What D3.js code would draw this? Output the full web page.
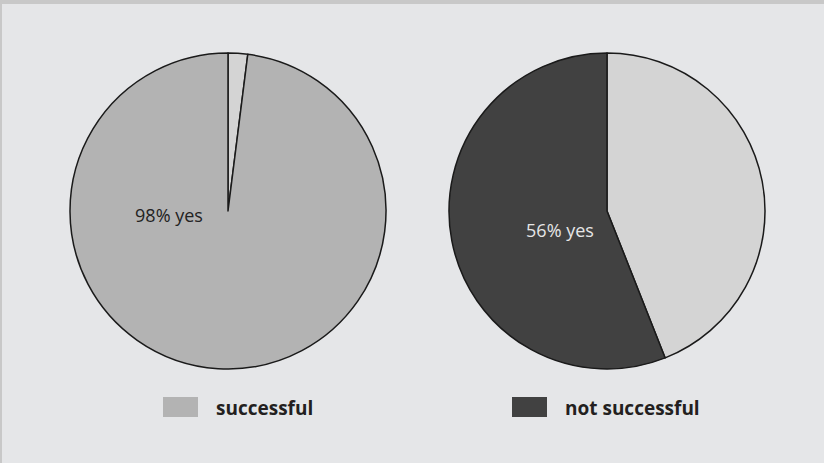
<!DOCTYPE html>
<html lang="en">
<head>
    <meta charset="UTF-8">
    <script src="https://d3js.org/d3.v7.min.js"></script>
    <title>Success pies</title>
    <style>
        body { margin: 0; background: #e5e6e8; }
        svg { display: block; font-family: "Open Sans", sans-serif; }
    </style>
</head>
<body>
    <div class="chart"></div>

    <script>
        // data
        const pieNames = ["left", "right"];
        const leftValues = [2, 98];
        const leftColors = ["#d4d4d4", "#b3b3b3"];
        const rightValues = [44, 56];
        const rightColors = ["#d4d4d4", "#414141"];
        const pieLabels = ["98% yes", "56% yes"];
        const legendLabels = ["successful", "not successful"];
        const legendColors = ["#b3b3b3", "#414141"];

        const width = 824, height = 463;
        const radius = 158;

        const svg = d3.select(".chart")
          .append("svg")
          .attr("width", width)
          .attr("height", height);

        // frame: darker strip on top and left
        svg.append("rect").attr("x", 0).attr("y", 0).attr("width", width).attr("height", 4).attr("fill", "#c8c8c8");
        svg.append("rect").attr("x", 0).attr("y", 0).attr("width", 2).attr("height", height).attr("fill", "#c8c8c8");

        const pie = d3.pie().sort(null).value(d => d);
        const arc = d3.arc().innerRadius(0).outerRadius(radius);

        const centers = d3.scalePoint().domain(pieNames).range([228, 607]);
        const cy = 211;

        const pies = [
          { name: "left", values: leftValues, colors: leftColors, label: pieLabels[0], dx: -59, dy: 6, textColor: "#222222" },
          { name: "right", values: rightValues, colors: rightColors, label: pieLabels[1], dx: -47, dy: 21, textColor: "#e6e6e6" }
        ];

        pies.forEach(p => {
          const g = svg.append("g")
            .attr("transform", "translate(" + centers(p.name) + "," + cy + ")");

          g.selectAll("path")
            .data(pie(p.values))
            .enter()
            .append("path")
            .attr("d", arc)
            .attr("fill", (d, i) => p.colors[i])
            .attr("stroke", "#1a1a1a")
            .attr("stroke-width", 1.5)
            .attr("stroke-linejoin", "round");

          g.append("text")
            .attr("x", p.dx)
            .attr("y", p.dy)
            .attr("text-anchor", "middle")
            .attr("dominant-baseline", "middle")
            .attr("font-size", 18)
            .attr("fill", p.textColor)
            .text(p.label);
        });

        // legend
        const legendX = d3.scalePoint().domain(legendLabels).range([163, 512]);
        const legend = svg.selectAll(".legend")
          .data(legendLabels)
          .enter()
          .append("g")
          .attr("class", "legend")
          .attr("transform", d => "translate(" + legendX(d) + ",397)");

        legend.append("rect")
          .attr("width", 35)
          .attr("height", 20)
          .attr("fill", (d, i) => legendColors[i]);

        legend.append("text")
          .attr("x", 53)
          .attr("y", 18)
          .attr("font-size", 19)
          .attr("font-weight", 700)
          .attr("fill", "#231f20")
          .text(d => d);
      </script>
</body>
</html>
